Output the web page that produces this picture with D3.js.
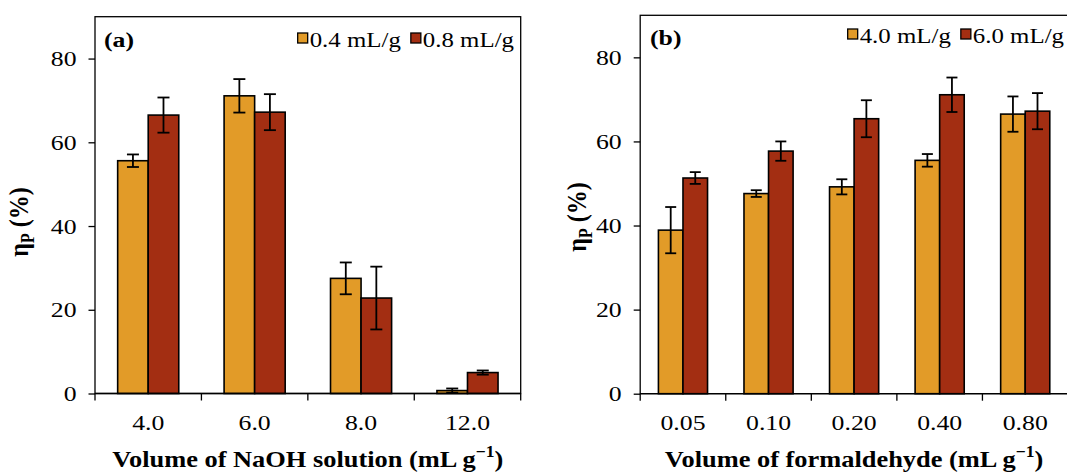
<!DOCTYPE html>
<html>
<head>
<meta charset="utf-8">
<script src="https://cdn.jsdelivr.net/npm/d3@7"></script>
<style>
  html, body { margin: 0; padding: 0; background: #fff; }
  svg { display: block; }
  text { font-family: "Liberation Serif", "Times New Roman", serif; fill: #000; }
</style>
</head>
<body>
<svg id="chart" width="1067" height="472"></svg>
<script>
// ---- data ----
const yTicks = [0, 20, 40, 60, 80];

const catsA = ["4.0", "6.0", "8.0", "12.0"];
const seriesA = ["0.4 mL/g", "0.8 mL/g"];
const valsA04 = [55.6, 71.1, 27.5, 0.7];
const errA04  = [1.5, 4.0, 3.8, 0.5];
const valsA08 = [66.5, 67.2, 22.8, 5.0];
const errA08  = [4.2, 4.3, 7.5, 0.5];

const catsB = ["0.05", "0.10", "0.20", "0.40", "0.80"];
const seriesB = ["4.0 mL/g", "6.0 mL/g"];
const valsB40 = [38.9, 47.6, 49.2, 55.5, 66.5];
const errB40  = [5.5, 0.8, 1.8, 1.5, 4.2];
const valsB60 = [51.3, 57.7, 65.4, 71.1, 67.2];
const errB60  = [1.4, 2.3, 4.4, 4.1, 4.3];

const colors = ["#E29B28", "#A32E12"];
const SX = 1.17;    // horizontal text stretch of the reference
const SXL = 1.13;   // legend text stretch

const svg = d3.select("#chart");

function drawPanel(cfg) {
  const g = svg.append("g");
  const x0 = d3.scaleBand().domain(cfg.cats).range([cfg.left, cfg.right]).padding(0);
  const x1 = d3.scaleBand().domain([0, 1]).range([0, x0.bandwidth()])
               .paddingInner(0).paddingOuter(0.742);
  const y = d3.scaleLinear().domain([0, 90]).range([cfg.bottom, cfg.top]);

  // frame
  g.append("rect")
    .attr("x", cfg.left).attr("y", cfg.top)
    .attr("width", cfg.right - cfg.left).attr("height", cfg.bottom - cfg.top)
    .attr("fill", "none").attr("stroke", "#000").attr("stroke-width", 1.3);

  // y axis
  const ya = g.append("g").attr("transform", `translate(${cfg.left},0)`)
    .call(d3.axisLeft(y).tickValues(yTicks).tickSize(6.5).tickSizeOuter(0).tickPadding(12));
  ya.select(".domain").remove();
  ya.selectAll("line").attr("stroke", "#000").attr("stroke-width", 1.3);
  ya.selectAll("text").attr("font-size", 22)
    .attr("x", -(6.5 + 12) / SX).attr("transform", `scale(${SX},1)`);

  // x axis: labels at band centres, ticks at band boundaries
  const xa = g.append("g").attr("transform", `translate(0,${cfg.bottom})`)
    .call(d3.axisBottom(x0).tickSize(0).tickPadding(21));
  xa.select(".domain").remove();
  xa.selectAll("text").attr("font-size", 22).attr("transform", `scale(${SX},1)`);
  const bounds = cfg.cats.map(c => x0(c)).concat([x0.range()[1]]);
  g.selectAll(".xb").data(bounds).join("line")
    .attr("x1", d => d).attr("x2", d => d)
    .attr("y1", cfg.bottom).attr("y2", cfg.bottom + 7)
    .attr("stroke", "#000").attr("stroke-width", 1.3);

  // bars
  const data = [];
  cfg.cats.forEach((c, i) => {
    cfg.vals.forEach((arr, s) => {
      data.push({ c, s, v: arr[i], e: cfg.errs[s][i] });
    });
  });
  g.selectAll(".bar").data(data).join("rect")
    .attr("x", d => x0(d.c) + x1(d.s))
    .attr("y", d => y(d.v))
    .attr("width", x1.bandwidth())
    .attr("height", d => y(0) - y(d.v))
    .attr("fill", d => colors[d.s])
    .attr("stroke", "#000").attr("stroke-width", 1.6);

  // baseline on top of bars
  g.append("line").attr("x1", cfg.left).attr("x2", cfg.right)
    .attr("y1", cfg.bottom).attr("y2", cfg.bottom)
    .attr("stroke", "#000").attr("stroke-width", 1.3);

  // error bars
  const eb = g.selectAll(".eb").data(data).join("g")
    .attr("transform", d => `translate(${x0(d.c) + x1(d.s) + x1.bandwidth() / 2},0)`);
  eb.append("line").attr("x1", 0).attr("x2", 0)
    .attr("y1", d => y(d.v + d.e)).attr("y2", d => y(d.v - d.e))
    .attr("stroke", "#000").attr("stroke-width", 1.8);
  eb.append("line").attr("x1", -cfg.cap).attr("x2", cfg.cap)
    .attr("y1", d => y(d.v + d.e)).attr("y2", d => y(d.v + d.e))
    .attr("stroke", "#000").attr("stroke-width", 1.8);
  eb.append("line").attr("x1", -cfg.cap).attr("x2", cfg.cap)
    .attr("y1", d => y(d.v - d.e)).attr("y2", d => y(d.v - d.e))
    .attr("stroke", "#000").attr("stroke-width", 1.8);

  // panel label
  g.append("text").attr("transform", `translate(${cfg.labelX},${cfg.labelY}) scale(${SX},1)`)
    .attr("font-size", 22).attr("font-weight", "bold").text(cfg.label);

  // legend, laid out from the right
  const leg = g.append("g");
  let xr = cfg.legRight;
  for (let s = cfg.series.length - 1; s >= 0; s--) {
    const t = leg.append("text").attr("font-size", 22).text(cfg.series[s]);
    const w = t.node().getComputedTextLength() * SXL;
    t.attr("transform", `translate(${xr - w},${cfg.legY}) scale(${SXL},1)`);
    leg.append("rect").attr("x", xr - w - 12).attr("y", cfg.legY - 14)
      .attr("width", 10).attr("height", 10)
      .attr("fill", colors[s]).attr("stroke", "#000").attr("stroke-width", 1.3);
    xr = xr - w - 12 - 10;
  }

  // x title
  const xt = g.append("text")
    .attr("transform", `translate(${(cfg.left + cfg.right) / 2},467) scale(1.1,1)`)
    .attr("text-anchor", "middle").attr("font-size", 24).attr("font-weight", "bold");
  xt.append("tspan").text(cfg.xTitle + " (mL g");
  xt.append("tspan").attr("font-size", 16).attr("dy", -10).text("\u22121");
  xt.append("tspan").attr("dy", 10).text(")");

  // y title
  const yt = g.append("text")
    .attr("transform", `translate(${cfg.yTitleX},${cfg.yTitleY}) scale(${SX},1) rotate(-90)`)
    .attr("text-anchor", "middle").attr("font-size", 24).attr("font-weight", "bold");
  yt.append("tspan").text("\u03b7");
  yt.append("tspan").attr("font-size", 16).attr("dy", 5).text("P");
  yt.append("tspan").attr("dy", -5).text(" (%)");
}

drawPanel({
  cats: catsA, series: seriesA, vals: [valsA04, valsA08], errs: [errA04, errA08],
  left: 95, right: 520.7, top: 16.7, bottom: 393.5, cap: 6,
  label: "(a)", labelX: 104, labelY: 47,
  legRight: 514, legY: 47,
  xTitle: "Volume of NaOH solution",
  yTitleX: 28, yTitleY: 222
});

drawPanel({
  cats: catsB, series: seriesB, vals: [valsB40, valsB60], errs: [errB40, errB60],
  left: 640.2, right: 1068, top: 15.3, bottom: 393.7, cap: 5.5,
  label: "(b)", labelX: 650, labelY: 45,
  legRight: 1064, legY: 43,
  xTitle: "Volume of formaldehyde",
  yTitleX: 586, yTitleY: 217
});
</script>
</body>
</html>
